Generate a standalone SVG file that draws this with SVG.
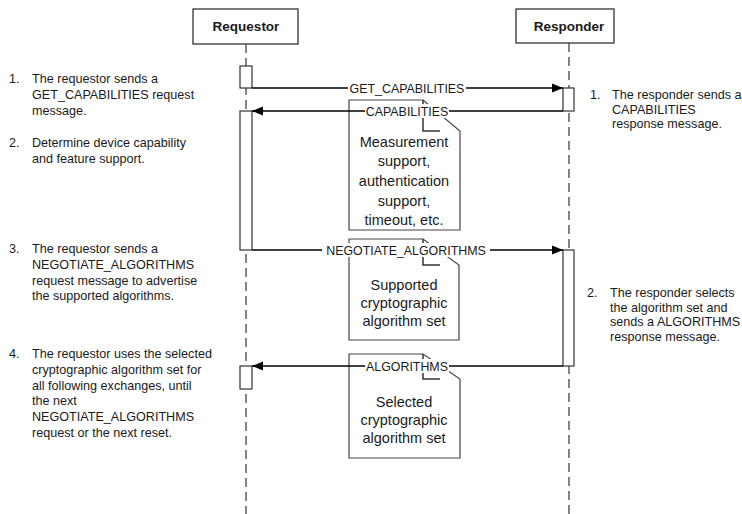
<svg xmlns="http://www.w3.org/2000/svg" width="742" height="514" viewBox="0 0 742 514">
<style>
text{font-family:"Liberation Sans",Arial,sans-serif;fill:#1a1a1a}
.hdr{fill:#fff;stroke:#333;stroke-width:1.3}
.hdrt{font-weight:bold;font-size:13.5px;text-anchor:middle}
.life{stroke:#444;stroke-width:1.3;stroke-dasharray:9 5;fill:none}
.bar{fill:#fff;stroke:#333;stroke-width:1.2}
.note{fill:#fff;stroke:#444;stroke-width:1.2}
.fold{fill:none;stroke:#333;stroke-width:1.5}
.nt{font-size:14.5px;text-anchor:middle}
.msg{stroke:#000;stroke-width:1.3;fill:none}
.lbl{font-size:12.4px;text-anchor:middle}
.lbg{fill:#fff}
.side{font-size:12.6px}
</style>
<defs>
<marker id="ah" markerUnits="userSpaceOnUse" markerWidth="12" markerHeight="10" refX="11" refY="5" orient="auto">
<path d="M0,0.5 L11,5 L0,9.5 Z" fill="#000"/>
</marker>
</defs>

<g id="lifelines">
<line class="life" x1="246" y1="44" x2="246" y2="514"/>
<line class="life" x1="569" y1="43" x2="569" y2="514"/>
</g>

<g id="requestor">
<rect class="hdr" x="193" y="9" width="105" height="35"/>
<text class="hdrt" x="246" y="31">Requestor</text>
</g>
<g id="responder">
<rect class="hdr" x="516" y="9" width="98" height="34"/>
<text class="hdrt" x="569" y="31">Responder</text>
</g>

<g id="activations">
<rect class="bar" x="240" y="66" width="12" height="22"/>
<rect class="bar" x="240" y="111" width="12" height="139"/>
<rect class="bar" x="240" y="366" width="12" height="23"/>
<rect class="bar" x="563" y="88" width="11" height="23"/>
<rect class="bar" x="563" y="250" width="11" height="116"/>
</g>

<g id="note1">
<path class="note" d="M349,100 H423 L460,131 V230 H349 Z"/>
<path class="fold" d="M423,100 V131 H440"/>
<text class="nt" x="404" y="147">Measurement</text>
<text class="nt" x="404" y="166">support,</text>
<text class="nt" x="404" y="186">authentication</text>
<text class="nt" x="404" y="206">support,</text>
<text class="nt" x="404" y="225">timeout, etc.</text>
</g>
<g id="note2">
<path class="note" d="M349,239 H423 L459,265 V340 H349 Z"/>
<path class="fold" d="M423,239 V265 H440"/>
<text class="nt" x="404" y="290">Supported</text>
<text class="nt" x="404" y="308">cryptographic</text>
<text class="nt" x="404" y="326">algorithm set</text>
</g>
<g id="note3">
<path class="note" d="M349,354 H423 L460,379 V458 H349 Z"/>
<path class="fold" d="M423,354 V379 H440"/>
<text class="nt" x="404" y="407">Selected</text>
<text class="nt" x="404" y="425">cryptographic</text>
<text class="nt" x="404" y="443">algorithm set</text>
</g>

<g id="connectors">
<line class="msg" x1="252" y1="88" x2="563" y2="88" marker-end="url(#ah)"/>
<rect class="lbg" x="348" y="81" width="118" height="14"/>
<text class="lbl" x="407" y="93">GET_CAPABILITIES</text>

<line class="msg" x1="563" y1="111" x2="252" y2="111" marker-end="url(#ah)"/>
<rect class="lbg" x="365" y="104" width="84" height="14"/>
<text class="lbl" x="407" y="116">CAPABILITIES</text>

<line class="msg" x1="252" y1="250" x2="563" y2="250" marker-end="url(#ah)"/>
<rect class="lbg" x="322" y="243" width="168" height="14"/>
<text class="lbl" x="406" y="255">NEGOTIATE_ALGORITHMS</text>

<line class="msg" x1="563" y1="366" x2="252" y2="366" marker-end="url(#ah)"/>
<rect class="lbg" x="365" y="359" width="84" height="14"/>
<text class="lbl" x="407" y="371">ALGORITHMS</text>
</g>

<g id="left-notes" class="side">
<text class="side" x="9" y="83">1.</text>
<text class="side" x="32" y="83">The requestor sends a</text>
<text class="side" x="32" y="99">GET_CAPABILITIES request</text>
<text class="side" x="32" y="115">message.</text>
<text class="side" x="9" y="147">2.</text>
<text class="side" x="32" y="147">Determine device capability</text>
<text class="side" x="32" y="163">and feature support.</text>
<text class="side" x="9" y="253">3.</text>
<text class="side" x="32" y="253">The requestor sends a</text>
<text class="side" x="32" y="269">NEGOTIATE_ALGORITHMS</text>
<text class="side" x="32" y="285">request message to advertise</text>
<text class="side" x="32" y="300">the supported algorithms.</text>
<text class="side" x="9" y="358">4.</text>
<text class="side" x="32" y="358">The requestor uses the selected</text>
<text class="side" x="32" y="374">cryptographic algorithm set for</text>
<text class="side" x="32" y="390">all following exchanges, until</text>
<text class="side" x="32" y="405">the next</text>
<text class="side" x="32" y="421">NEGOTIATE_ALGORITHMS</text>
<text class="side" x="32" y="437">request or the next reset.</text>
</g>

<g id="right-notes">
<text class="side" x="590" y="99">1.</text>
<text class="side" x="612" y="99" font-size="12.2">The responder sends a</text>
<text class="side" x="612" y="114">CAPABILITIES</text>
<text class="side" x="612" y="128">response message.</text>
<text class="side" x="587" y="297">2.</text>
<text class="side" x="610" y="297">The responder selects</text>
<text class="side" x="610" y="312">the algorithm set and</text>
<text class="side" x="610" y="326">sends a ALGORITHMS</text>
<text class="side" x="610" y="341">response message.</text>
</g>
</svg>
